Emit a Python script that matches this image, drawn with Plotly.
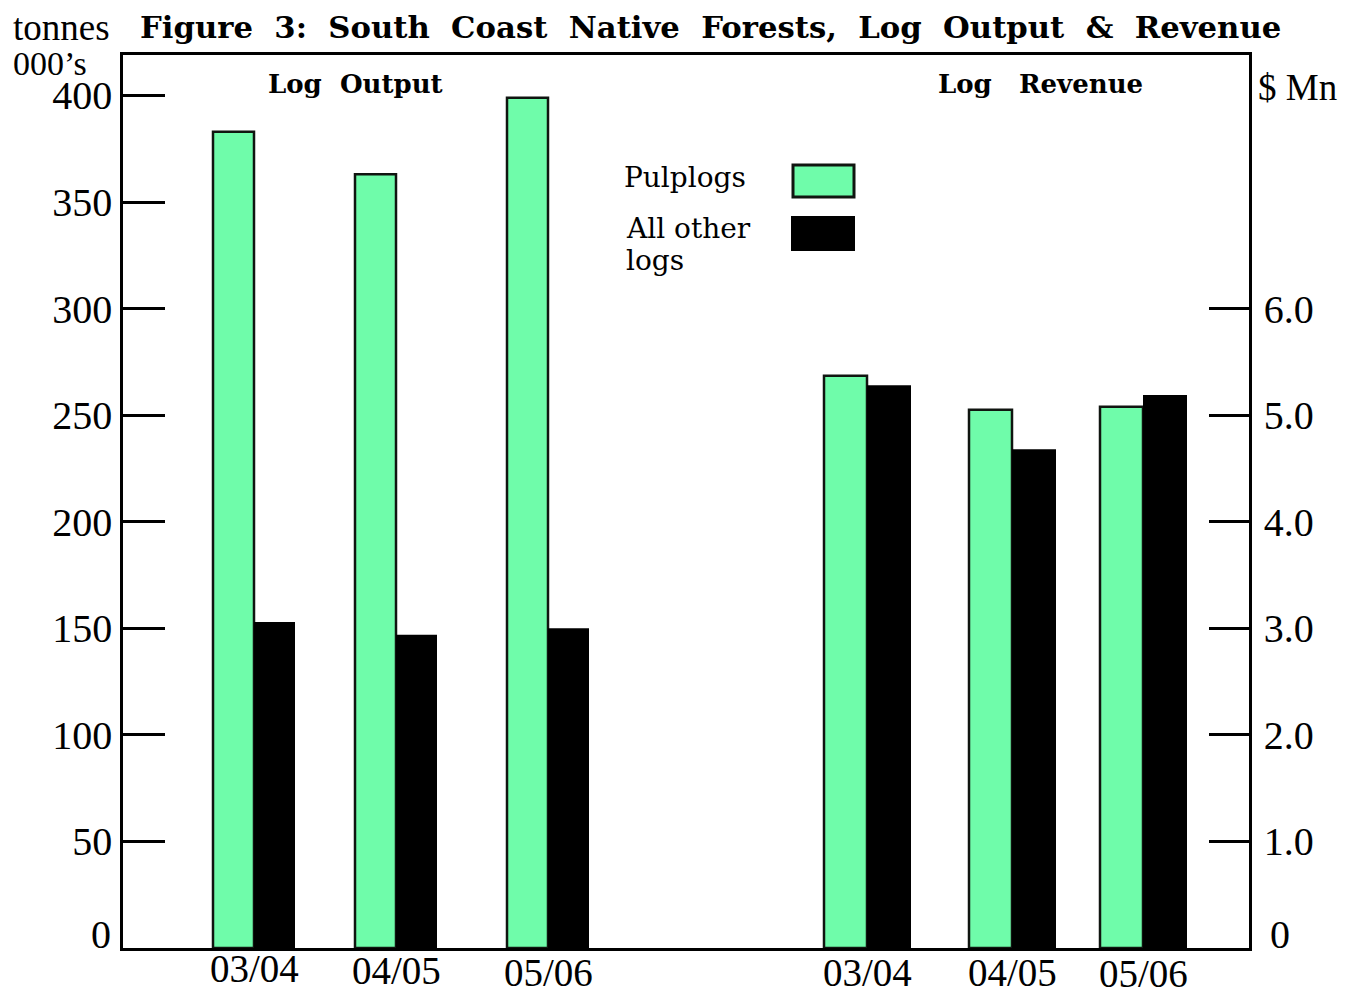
import plotly.graph_objects as go

# ---- data ----
years = ["03/04", "04/05", "05/06"]
output_pulplogs = [383, 363, 399]          # tonnes 000's
output_other = [153, 147, 150]
revenue_pulplogs = [5.37, 5.05, 5.08]      # $ Mn
revenue_other = [5.28, 4.68, 5.19]
left_ticks = [0, 50, 100, 150, 200, 250, 300, 350, 400]
right_ticks = [0, 1, 2, 3, 4, 5, 6]
right_tick_labels = ["0", "1.0", "2.0", "3.0", "4.0", "5.0", "6.0"]

# ---- layout / positions (reference pixel coordinates) ----
W, H = 1356, 994
OFF = 8  # page body margin compensation
L, R, T, B = 123 - OFF, 1249 - OFF, 55 - OFF, 948 - OFF
output_pos = [254, 396, 548]
revenue_pos = [867, 1012, 1143]
label_y = [968, 970, 972, 972, 972, 973]
bar_w = 41
GREEN = "#6ffcaa"
SERIF = "Liberation Serif"
LUC = "DejaVu Serif"

def px(x):
    return (x - OFF - L) / (R - L)

def py(y):
    return (B - (y - OFF)) / (B - T)

fig = go.Figure()
pulp_line = dict(color="#101510", width=2.5)
xo = [p - OFF for p in output_pos]
xr = [p - OFF for p in revenue_pos]
fig.add_trace(go.Bar(x=xo, y=output_pulplogs, width=bar_w, offset=-bar_w,
                     marker=dict(color=GREEN, line=pulp_line), yaxis="y", name="Pulplogs"))
fig.add_trace(go.Bar(x=xr, y=revenue_pulplogs, width=bar_w + 2, offset=-bar_w - 2,
                     marker=dict(color=GREEN, line=pulp_line), yaxis="y2", name="Pulplogs"))
fig.add_trace(go.Bar(x=xo, y=output_other, width=bar_w, offset=0,
                     marker=dict(color="black", line=dict(width=0)), yaxis="y", name="All other logs"))
fig.add_trace(go.Bar(x=xr, y=revenue_other, width=bar_w + 3, offset=0,
                     marker=dict(color="black", line=dict(width=0)), yaxis="y2", name="All other logs"))

ymax = 419
fig.update_layout(
    width=W, height=H,
    margin=dict(l=L, r=W - R, t=T, b=H - B, autoexpand=False),
    paper_bgcolor="white", plot_bgcolor="white",
    barmode="overlay", showlegend=False,
    xaxis=dict(range=[L, R], showticklabels=False, automargin=False,
               showline=True, linecolor="black", linewidth=2.5, mirror=True,
               ticks="", showgrid=False, zeroline=False),
    yaxis=dict(range=[0, ymax], tickvals=left_ticks,
               ticktext=[""] + [str(v) for v in left_ticks[1:]], automargin=False,
               ticks="inside", ticklen=42, tickwidth=2.5,
               tickcolor="black", showline=True, linecolor="black", linewidth=2.5,
               showgrid=False, zeroline=False,
               tickfont=dict(family=SERIF, size=40, color="black")),
    yaxis2=dict(range=[0, ymax / 50], overlaying="y", side="right", tickvals=right_ticks,
                ticktext=[""] + right_tick_labels[1:], automargin=False,
                ticks="inside", ticklen=40, tickwidth=2.5, ticklabelstandoff=4,
                tickcolor="black", showline=True, linecolor="black", linewidth=2.5,
                showgrid=False, zeroline=False,
                tickfont=dict(family=SERIF, size=40, color="black")),
)

NB = "\u00a0"
def ann(text, x, y, size, family, bold=False, xanchor="left"):
    if bold:
        text = "<b>" + text + "</b>"
    fig.add_annotation(text=text, x=px(x), y=py(y), xref="paper", yref="paper",
                       xanchor=xanchor, yanchor="middle", showarrow=False,
                       font=dict(family=family, size=size, color="black"))

# category labels under the bars
for pos, lab, ly in zip(xo + xr, years + years, label_y):
    fig.add_annotation(text=lab, x=pos, xref="x", y=py(ly), yref="paper",
                       xanchor="center", yanchor="middle", showarrow=False,
                       font=dict(family=SERIF, size=39, color="black"))

# raised zero labels
ann(str(left_ticks[0]), 113, 934, 40, SERIF, xanchor="right")
ann(right_tick_labels[0], 1268, 934, 40, SERIF)

title = (NB * 2).join(["Figure", "3:", "South", "Coast", "Native", "Forests,", "Log",
                       "Output", "&", "Revenue"])
ann(title, 138, 27, 30.7, LUC, bold=True)
ann("tonnes", 11, 28, 37, SERIF)
ann("000\u2019s", 11, 63, 34, SERIF)
ann("$ Mn", 1256, 87, 37, SERIF)
ann("Log" + NB * 2 + "Output", 266, 84, 26, LUC, bold=True)
ann("Log" + NB * 3 + "Revenue", 936, 84, 26, LUC, bold=True)
ann("Pulplogs", 622, 178, 28, LUC)
ann("All other", 624, 228, 28, LUC)
ann("logs", 624, 260, 28, LUC)

# legend swatches
fig.add_shape(type="rect", xref="paper", yref="paper", x0=px(793), x1=px(854), y0=py(197), y1=py(165),
              fillcolor=GREEN, line=dict(color="#101510", width=3))
fig.add_shape(type="rect", xref="paper", yref="paper", x0=px(791), x1=px(855), y0=py(251), y1=py(216),
              fillcolor="black", line=dict(width=0))

fig.write_html("out.html")
